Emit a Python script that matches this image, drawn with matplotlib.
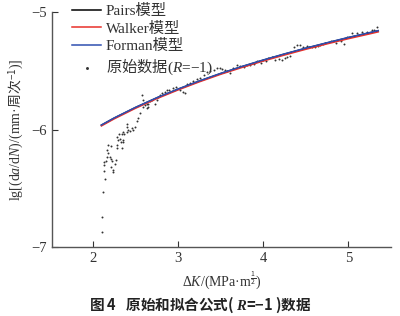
import matplotlib
matplotlib.use("Agg")
import matplotlib.pyplot as plt

plt.rcParams['font.family'] = ['Liberation Serif', 'Noto Sans CJK SC', 'DejaVu Sans']
plt.rcParams['mathtext.fontset'] = 'custom'
plt.rcParams['mathtext.rm'] = 'Noto Sans CJK SC'
plt.rcParams['mathtext.it'] = 'Liberation Serif:italic'
plt.rcParams['mathtext.bf'] = 'Liberation Serif:italic:bold'

# fitted curves
fit_x = [2.1, 2.25, 2.5, 2.75, 3.0, 3.25, 3.5, 3.75, 4.0, 4.25, 4.5, 4.75, 5.0, 5.25, 5.35]
pairs_y = [-5.963, -5.903, -5.813, -5.731, -5.657, -5.588, -5.524, -5.465, -5.410,
           -5.358, -5.309, -5.263, -5.218, -5.177, -5.160]
walker_y = [-5.969, -5.909, -5.819, -5.737, -5.663, -5.594, -5.530, -5.472, -5.417,
            -5.366, -5.317, -5.271, -5.227, -5.186, -5.169]
forman_y = [-5.961, -5.901, -5.811, -5.729, -5.655, -5.586, -5.522, -5.463, -5.408,
            -5.356, -5.307, -5.261, -5.216, -5.175, -5.158]

# raw data
raw_x = [2.106, 2.11, 2.114, 2.14, 2.13, 2.133, 2.13, 2.15, 2.16, 2.173, 2.168, 2.18,
         2.2, 2.208, 2.215, 2.22, 2.232, 2.24, 2.26, 2.27, 2.208, 2.28, 2.286, 2.28,
         2.30, 2.31, 2.32, 2.326, 2.338, 2.35, 2.357, 2.368, 2.338, 2.357, 2.396, 2.41,
         2.435, 2.455, 2.467, 2.396, 2.404, 2.494, 2.514, 2.533, 2.553, 2.573, 2.59, 2.59,
         2.61, 2.63, 2.63, 2.65, 2.65, 2.67, 2.69, 2.73, 2.75, 2.77, 2.79, 2.81, 2.85,
         2.87, 2.89, 2.945, 2.97, 3.02, 3.06, 3.08, 3.10, 3.14, 3.18, 3.22, 3.26, 3.30,
         3.34, 3.38, 3.42, 3.46, 3.49, 3.52, 3.55, 3.58, 3.61, 3.65, 3.69, 3.73, 3.77,
         3.81, 3.85, 3.89, 3.93, 3.97, 4.0, 4.03, 4.06, 4.10, 4.14, 4.18, 4.22, 4.25,
         4.28, 4.32, 4.36, 4.40, 4.435, 4.47, 4.51, 4.54, 4.57, 4.61, 4.64, 4.67, 4.70,
         4.73, 4.79, 4.85, 4.91, 4.945, 4.985, 5.04, 5.10, 5.16, 5.22, 5.28, 5.30, 5.34]
raw_y = [-6.87, -6.74, -6.53, -6.42, -6.35, -6.30, -6.28, -6.27, -6.23, -6.20, -6.17, -6.13,
         -6.23, -6.25, -6.32, -6.27, -6.34, -6.36, -6.29, -6.26, -6.14, -6.16, -6.13, -6.06,
         -6.09, -6.04, -6.08, -6.11, -6.16, -6.11, -6.09, -6.04, -6.04, -6.02, -6.02, -6.00,
         -6.01, -5.99, -6.00, -5.98, -5.95, -5.98, -5.93, -5.905, -5.86, -5.71, -5.75, -5.81,
         -5.79, -5.82, -5.78, -5.78, -5.81, -5.76, -5.75, -5.78, -5.75, -5.72, -5.71, -5.69, -5.68,
         -5.66, -5.66, -5.65, -5.64, -5.66, -5.68, -5.69, -5.61, -5.60, -5.59, -5.57, -5.56, -5.54,
         -5.51, -5.50, -5.49, -5.48, -5.48, -5.485, -5.49, -5.50, -5.52, -5.48, -5.45, -5.46, -5.47,
         -5.45, -5.45, -5.44, -5.42, -5.43, -5.41, -5.42, -5.39, -5.38, -5.41, -5.40, -5.41, -5.39,
         -5.38, -5.37, -5.30, -5.28, -5.28, -5.30, -5.29, -5.30, -5.30, -5.30, -5.29, -5.28, -5.27,
         -5.26, -5.25, -5.26, -5.25, -5.27, -5.21, -5.18, -5.18, -5.17, -5.17, -5.15, -5.15, -5.125]

x_ticks = [2, 3, 4, 5]
y_ticks = [-7, -6, -5]

fig = plt.figure(figsize=(4.0, 3.16), dpi=100)
ax = fig.add_axes([0.13, 0.218, 0.8475, 0.744])

ax.plot(fit_x, pairs_y, color='black', lw=1.1, label='Pairs模型')
ax.plot(fit_x, walker_y, color='#e8302a', lw=1.1, label='Walker模型')
ax.plot(fit_x, forman_y, color='#2f4fb0', lw=1.1, label='Forman模型')
ax.scatter(raw_x, raw_y, s=2.0, color='#333333', linewidths=0,
           label='$\\mathrm{原始数据}$($\\mathit{R}$=−1)')

ax.set_xlim(1.52, 5.5)
ax.set_ylim(-7, -5)
ax.set_xticks(x_ticks)
ax.set_yticks(y_ticks)
ax.tick_params(direction='in', length=4, width=0.8, labelsize=10.5, colors='#333333')
for s in ['top', 'right']:
    ax.spines[s].set_visible(False)
for s in ['left', 'bottom']:
    ax.spines[s].set_color('#555555')
    ax.spines[s].set_linewidth(1.0)

ax.set_ylabel('lg[(d$\\mathit{a}$/d$\\mathit{N}$)/(mm·$\\mathrm{周次}^{-1}$)]', fontsize=10,
              color='#333333', labelpad=4)
ax.set_xlabel('Δ$\\mathit{K}$/(MPa·m$^{\\frac{1}{2}}$)', fontsize=10, color='#333333', labelpad=3)

leg = ax.legend(loc='upper left', bbox_to_anchor=(0.165, 1.006), bbox_transform=fig.transFigure,
                frameon=False, fontsize=11, handlelength=1.9, handletextpad=0.3,
                labelspacing=0.22, borderaxespad=0, markerscale=1.5)
for t in leg.get_texts():
    t.set_color('#333333')

fig.text(0.50, 0.035, '图 4   原始和拟合公式( $\\mathbf{R}$=−1 )数据', ha='center', va='center',
         fontsize=10.5, fontweight='bold', family='Noto Sans CJK SC', color='#222222')

fig.savefig('out.png', dpi=100)
